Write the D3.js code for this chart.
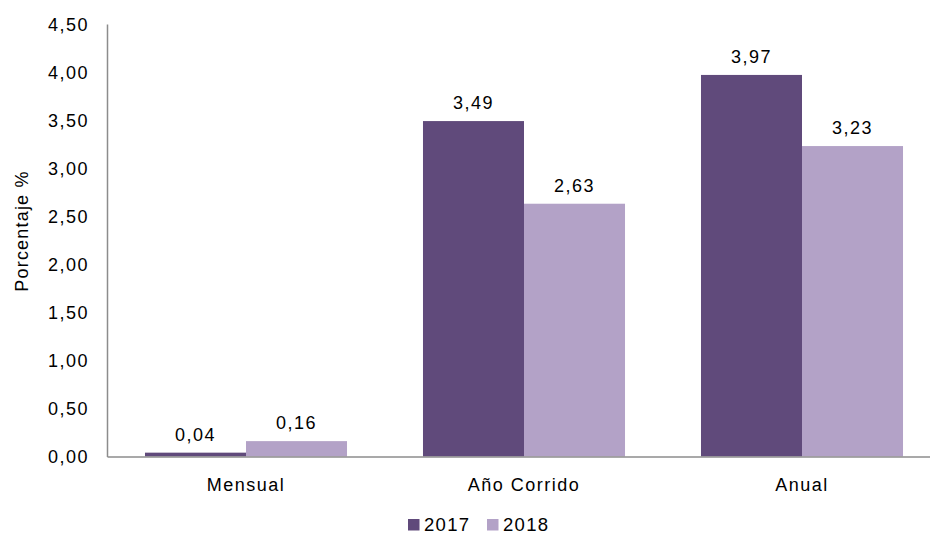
<!DOCTYPE html>
<html><head><meta charset="utf-8">
<script src="https://cdn.jsdelivr.net/npm/d3@7/dist/d3.min.js"></script>
<style>
body{margin:0;background:#fff;}
text{font-family:"Liberation Sans",Arial,sans-serif;fill:#000;}
</style></head>
<body>
<svg id="c" width="930" height="535"></svg>
<script>
const categories = ["Mensual", "Año Corrido", "Anual"];
const seriesNames = ["2017", "2018"];
const values2017 = [0.04, 3.49, 3.97];
const values2018 = [0.16, 2.63, 3.23];
const yTicks = [0, 0.5, 1, 1.5, 2, 2.5, 3, 3.5, 4, 4.5];
const colors = ["#604a7b", "#b3a2c7"];

(function(){
const svg = d3.select("#c");
const mLeft = 107, mRight = 941, mTop = 24, mBottom = 456.5;
const fs = 18, ls = "1.5px";

const x0 = d3.scaleBand().domain(categories).range([mLeft, mRight]).padding(0);
const x1 = d3.scaleBand().domain(seriesNames).range([0, x0.bandwidth()]).paddingInner(0).paddingOuter(0.376);
const y = d3.scaleLinear().domain([0, 4.5]).range([mBottom, mTop]);
const fmt = v => d3.format(".2f")(v).replace(".", ",");

const data = categories.map((c, i) => ({cat: c, vals: [values2017[i], values2018[i]]}));

const g = svg.append("g");
data.forEach(d => {
  d.vals.forEach((v, j) => {
    g.append("rect")
      .attr("x", x0(d.cat) + x1(seriesNames[j]))
      .attr("y", y(v))
      .attr("width", x1.bandwidth())
      .attr("height", y(0) - y(v))
      .attr("fill", colors[j]);
    g.append("text")
      .attr("x", x0(d.cat) + x1(seriesNames[j]) + x1.bandwidth() / 2)
      .attr("y", y(v) - 12)
      .attr("text-anchor", "middle")
      .style("font-size", fs + "px").style("letter-spacing", ls)
      .text(fmt(v));
  });
});

const ya = svg.append("g").attr("transform", `translate(${mLeft},0)`)
  .call(d3.axisLeft(y).tickValues(yTicks).tickSize(0).tickPadding(18).tickFormat(fmt));
ya.select(".domain").attr("stroke", "#8c8c8c").attr("stroke-width", 1.5);
ya.selectAll("text").style("font-size", fs + "px").style("letter-spacing", ls).attr("dy", "0.35em");

const xa = svg.append("g").attr("transform", `translate(0,${mBottom})`)
  .call(d3.axisBottom(x0).tickSize(0).tickPadding(22));
xa.select(".domain").attr("stroke", "#8c8c8c").attr("stroke-width", 1.5);
xa.selectAll("text").style("font-size", fs + "px").style("letter-spacing", ls).attr("dy", "0.71em");

svg.append("text")
  .attr("transform", "translate(28,231) rotate(-90)")
  .attr("text-anchor", "middle")
  .style("font-size", fs + "px").style("letter-spacing", "1.2px")
  .text("Porcentaje %");

const lg = svg.append("g");
const legX = [408, 487];
seriesNames.forEach((s, j) => {
  lg.append("rect").attr("x", legX[j]).attr("y", 519).attr("width", 11.5).attr("height", 11.5).attr("fill", colors[j]);
  lg.append("text").attr("x", legX[j] + 16).attr("y", 531)
    .style("font-size", "18.5px").style("letter-spacing", "1.3px").text(s);
});
})();
</script>
</body></html>
